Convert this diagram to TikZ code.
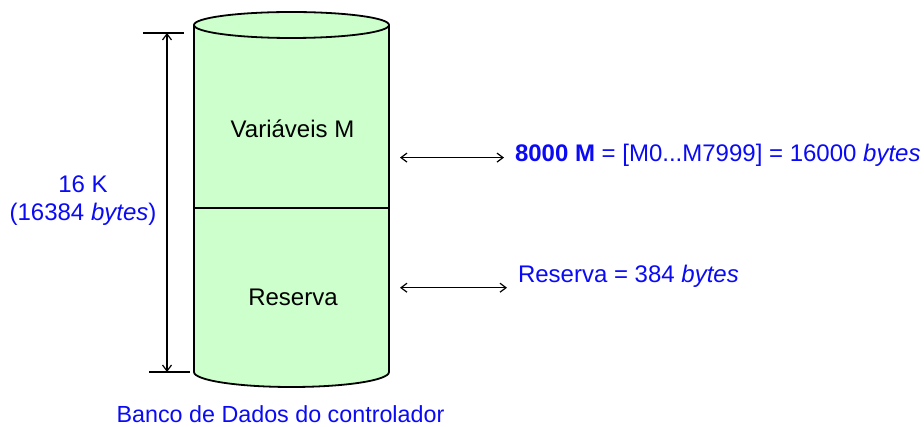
\documentclass[tikz,border=0pt]{standalone}
\usepackage{fontspec}
\setmainfont{Liberation Sans}
\usetikzlibrary{arrows.meta}
\definecolor{cylgreen}{RGB}{204,255,204}
\definecolor{txtblue}{RGB}{10,10,245}
\begin{document}
\begin{tikzpicture}[x=1pt,y=1pt,
  every node/.style={inner sep=0pt,outer sep=0pt,font=\fontsize{24}{28}\selectfont},
  bluetxt/.style={text=txtblue},
  cyl/.style={draw=black,line width=1.8pt},
  dimarrow/.style={line width=1.2pt,{Straight Barb[length=6pt,width=9pt]}-{Straight Barb[length=6pt,width=9pt]}},
  tick/.style={line width=1.2pt}]
\useasboundingbox (0,0) rectangle (924,426);
% cylinder body
\fill[cylgreen] (194,401) -- (194,54) arc[start angle=180,end angle=360,x radius=97.5,y radius=15]
  -- (389,401) arc[start angle=0,end angle=180,x radius=97.5,y radius=13] -- cycle;
\draw[cyl] (291.5,401) ellipse[x radius=97.5,y radius=13];
\draw[cyl] (194,401) -- (194,54) arc[start angle=180,end angle=360,x radius=97.5,y radius=15] -- (389,401);
\draw[line width=1.2pt] (194,218) -- (389,218);
% inner labels
\node[anchor=base] (varm) at (292.5,288) {Variáveis M};
\node[anchor=base] (res) at (293,120.5) {Reserva};
% dimension line
\coordinate (t1) at (143,393); \coordinate (t2) at (184,393);
\coordinate (b1) at (149,54); \coordinate (b2) at (190,54);
\draw[tick] (t1) -- (t2);
\draw[tick] (b1) -- (b2);
\coordinate (dtop) at (167,393); \coordinate (dbot) at (167,54);
\draw[dimarrow] (dtop) -- (dbot);
\node[bluetxt,anchor=base] (k16) at (83,233) {16 K};
\node[bluetxt,anchor=base] (kb) at (83,205) {(16384 \textit{bytes})};
% right arrows
\coordinate (a1l) at (400,268.4); \coordinate (a1r) at (504,268.4);
\coordinate (a2l) at (400,138.3); \coordinate (a2r) at (507,138.3);
\draw[dimarrow] (a1l) -- (a1r);
\draw[dimarrow] (a2l) -- (a2r);
\node[bluetxt,anchor=base west] (mtxt) at (515,264) {\textbf{8000 M} = [M0...M7999] = 16000 \textit{bytes}};
\node[bluetxt,anchor=base west] (rtxt) at (518,143) {Reserva = 384 \textit{bytes}};
% caption
\node[bluetxt,anchor=base,font=\fontsize{23.3}{28}\selectfont] (cap) at (280.5,4) {Banco de Dados do controlador};
\end{tikzpicture}
\end{document}
